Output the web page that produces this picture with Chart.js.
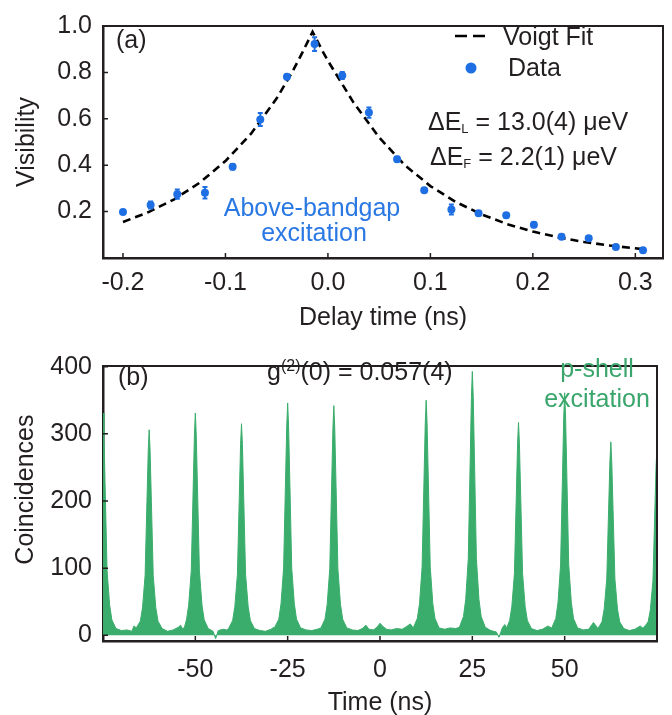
<!DOCTYPE html>
<html>
<head>
<meta charset="utf-8">
<script src="https://cdn.jsdelivr.net/npm/chart.js@4.4.1/dist/chart.umd.min.js"></script>
<style>
  body { margin: 0; background: #fff; }
  #wrap { position: relative; width: 672px; height: 715px; }
  canvas { position: absolute; left: 0; }
  #visibility-chart { top: 0; }
  #coincidence-chart { top: 340px; }
</style>
</head>
<body>
<div id="wrap">
  <canvas id="visibility-chart" width="672" height="340"></canvas>
  <canvas id="coincidence-chart" width="672" height="375"></canvas>
</div>
<script>
// (a) two-photon interference visibility
const delayTime = [-0.2, -0.173, -0.147, -0.12, -0.093, -0.066, -0.04, -0.013, 0.014, 0.04,
                   0.0675, 0.094, 0.1205, 0.147, 0.174, 0.201, 0.228, 0.2545, 0.281, 0.3075];
const visibility = [0.198, 0.228, 0.275, 0.281, 0.393, 0.597, 0.781, 0.922, 0.787, 0.627,
                    0.426, 0.292, 0.209, 0.193, 0.184, 0.143, 0.092, 0.085, 0.047, 0.033];
const visError = [0.008, 0.015, 0.02, 0.025, 0.012, 0.028, 0.01, 0.03, 0.015, 0.022,
                  0.01, 0.008, 0.022, 0.01, 0.01, 0.01, 0.008, 0.01, 0.008, 0.008];

// dashed Voigt fit
const fitTime = [-0.2, -0.175, -0.15, -0.125, -0.1, -0.075, -0.05, -0.035, -0.025, -0.015,
                 -0.005, 0, 0.025, 0.05, 0.075, 0.1, 0.125, 0.15, 0.175, 0.2, 0.225, 0.25, 0.275, 0.3075];
const fitVis = [0.155, 0.198, 0.253, 0.325, 0.418, 0.536, 0.688, 0.8, 0.885, 0.975,
                0.89, 0.85, 0.67, 0.52, 0.4, 0.31, 0.241, 0.188, 0.146, 0.114, 0.089, 0.069, 0.054, 0.038];

const visXTicks = [-0.2, -0.1, 0, 0.1, 0.2, 0.3];
const visYTicks = [0.2, 0.4, 0.6, 0.8, 1.0];

// (b) coincidence histogram, one line per peak / gap
const coincTime = [
  -75, -74.75, -74.4, -73.9, -73.2, -72.6, -71.5,
  -70, -68.5, -67.2, -66.6,
  -66, -64.9, -64.3, -63.6, -63.1, -62.75, -62.5, -62.25, -61.9, -61.4, -60.7, -60.1, -59,
  -57.5, -56, -54.6, -54, -53.5,
  -53, -52.4, -51.8, -51.1, -50.6, -50.25, -50, -49.75, -49.4, -48.9, -48.2, -47.6, -46.5,
  -45.2, -44.5, -43.8, -42.5, -41.5,
  -41, -39.9, -39.3, -38.6, -38.1, -37.75, -37.5, -37.25, -36.9, -36.4, -35.7, -35.1, -34,
  -32.5, -31, -29.5, -29,
  -28.5, -27.4, -26.8, -26.1, -25.6, -25.25, -25, -24.75, -24.4, -23.9, -23.2, -22.6, -21.5,
  -20, -18.5, -17,
  -16, -14.9, -14.3, -13.6, -13.1, -12.75, -12.5, -12.25, -11.9, -11.4, -10.7, -10.1, -9,
  -7.5, -6, -4.8, -3.8, -3, -1.8, -0.8, 0, 0.8, 1.8, 3, 4.5, 6, 7.2, 8.2,
  9, 10.1, 10.7, 11.4, 11.9, 12.25, 12.5, 12.75, 13.1, 13.6, 14.3, 14.9, 16,
  17.5, 19, 20.5,
  21.5, 22.6, 23.2, 23.9, 24.4, 24.75, 25, 25.25, 25.6, 26.1, 26.8, 27.4, 28.5,
  30, 31.5, 32.2, 33.2, 33.8,
  34.3, 35.1, 35.7, 36.4, 36.9, 37.25, 37.5, 37.75, 38.1, 38.6, 39.3, 39.9, 41,
  42.5, 44, 45.5, 46,
  46.5, 47.6, 48.2, 48.9, 49.4, 49.75, 50, 50.25, 50.6, 51.1, 51.8, 52.4, 53.5,
  55, 56.5, 57.8, 58.5,
  59, 60.1, 60.7, 61.4, 61.9, 62.25, 62.5, 62.75, 63.1, 63.6, 64.3, 64.9, 66,
  67.5, 69, 70.5, 71,
  71.5, 72.6, 73.2, 73.9, 74.4, 74.75, 75
];
const coincCounts = [
  331, 298, 215, 96, 45, 23, 10,
  7, 8, 6, 14,
  11, 21, 41, 89, 199, 275, 306, 275, 199, 89, 41, 21, 10,
  6, 8, 12, 15, 10,
  11, 23, 45, 96, 215, 298, 331, 298, 215, 96, 45, 23, 10,
  6, -5, 7, 9, 8,
  10, 22, 43, 91, 205, 284, 315, 284, 205, 91, 43, 22, 10,
  7, 6, 9, 11,
  12, 24, 47, 100, 225, 311, 346, 311, 225, 100, 47, 24, 11,
  8, 7, 9,
  11, 24, 46, 99, 222, 308, 342, 308, 222, 99, 46, 24, 11,
  8, 7, 10, 15, 9, 8, 12, 18, 13, 9, 8, 10, 9, 13, 17,
  11, 25, 47, 102, 228, 315, 350, 315, 228, 102, 47, 25, 11,
  9, 11, 10,
  12, 28, 53, 114, 255, 354, 393, 354, 255, 114, 53, 28, 12,
  7, 5, -3, 12, 16,
  11, 22, 43, 92, 206, 285, 317, 285, 206, 92, 43, 22, 10,
  7, 9, 14, 12,
  11, 25, 49, 105, 235, 325, 361, 325, 235, 105, 49, 25, 11,
  8, 9, 19, 14,
  10, 20, 39, 84, 187, 259, 288, 259, 187, 84, 39, 20, 10,
  7, 9, 14, 11,
  12, 20, 38, 81, 182, 252, 280
];

const coincXTicks = [-50, -25, 0, 25, 50];
const coincYTicks = [0, 100, 200, 300, 400];

const INK = '#231f20';
const BLUE = '#1e6fe3';
const GREEN = '#3aad6c';
const FONT = '"Liberation Sans", Arial, sans-serif';

// closed frame plus short inward tick marks
const frameAndTicks = {
  id: 'frameAndTicks',
  afterDraw(chart) {
    const {ctx, chartArea: a, scales} = chart;
    ctx.save();
    ctx.strokeStyle = INK;
    ctx.lineWidth = 2;
    ctx.beginPath();
    ctx.moveTo(a.left, a.top);
    ctx.lineTo(a.right, a.top);
    ctx.lineTo(a.right, a.bottom);
    ctx.stroke();
    ctx.lineWidth = 1.5;
    ctx.beginPath();
    scales.x.ticks.forEach(t => {
      const px = scales.x.getPixelForValue(t.value);
      ctx.moveTo(px, a.bottom);
      ctx.lineTo(px, a.bottom - 5);
    });
    scales.y.ticks.forEach(t => {
      const py = scales.y.getPixelForValue(t.value);
      ctx.moveTo(a.left, py);
      ctx.lineTo(a.left + 5, py);
    });
    ctx.stroke();
    ctx.restore();
  }
};

function drawRuns(ctx, x, y, runs, color) {
  ctx.fillStyle = color;
  ctx.textBaseline = 'alphabetic';
  ctx.textAlign = 'left';
  runs.forEach(([text, size, dy]) => {
    ctx.font = size + 'px ' + FONT;
    ctx.fillText(text, x, y + dy);
    x += ctx.measureText(text).width;
  });
}

function drawCentered(ctx, x, y, text, color) {
  ctx.fillStyle = color;
  ctx.textBaseline = 'alphabetic';
  ctx.textAlign = 'center';
  ctx.font = '25px ' + FONT;
  ctx.fillText(text, x, y);
}

const errorBars = {
  id: 'errorBars',
  afterDatasetsDraw(chart) {
    const {ctx, scales: {x, y}} = chart;
    ctx.save();
    ctx.strokeStyle = BLUE;
    ctx.lineWidth = 2;
    delayTime.forEach((t, i) => {
      const px = x.getPixelForValue(t);
      const lo = y.getPixelForValue(visibility[i] - visError[i]);
      const hi = y.getPixelForValue(visibility[i] + visError[i]);
      ctx.beginPath();
      ctx.moveTo(px, lo); ctx.lineTo(px, hi);
      ctx.moveTo(px - 2.5, lo); ctx.lineTo(px + 2.5, lo);
      ctx.moveTo(px - 2.5, hi); ctx.lineTo(px + 2.5, hi);
      ctx.stroke();
    });
    ctx.restore();
  }
};

const visibilityNotes = {
  id: 'visibilityNotes',
  afterDraw(chart) {
    const ctx = chart.ctx;
    const [fit, data] = chart.data.datasets;
    ctx.save();
    // legend
    ctx.strokeStyle = fit.borderColor;
    ctx.lineWidth = fit.borderWidth;
    ctx.setLineDash([12, 6]);
    ctx.beginPath();
    ctx.moveTo(455, 36);
    ctx.lineTo(485, 36);
    ctx.stroke();
    ctx.setLineDash([]);
    ctx.fillStyle = data.pointBackgroundColor;
    ctx.beginPath();
    ctx.arc(471, 68, 5.5, 0, Math.PI * 2);
    ctx.fill();
    drawRuns(ctx, 503, 45, [[fit.label, 25, 0]], INK);
    drawRuns(ctx, 508, 76, [[data.label, 25, 0]], INK);

    drawRuns(ctx, 116, 48, [['(a)', 25, 0]], INK);
    drawRuns(ctx, 428, 130, [['ΔE', 25, 0], ['L', 13, 3], [' = 13.0(4) μeV', 25, 0]], INK);
    drawRuns(ctx, 430, 165, [['ΔE', 25, 0], ['F', 13, 3], [' = 2.2(1) μeV', 25, 0]], INK);
    drawCentered(ctx, 312, 216, 'Above-bandgap', '#2a78e4');
    drawCentered(ctx, 314, 241, 'excitation', '#2a78e4');
    ctx.restore();
  }
};

const coincidenceNotes = {
  id: 'coincidenceNotes',
  afterDraw(chart) {
    const ctx = chart.ctx;
    ctx.save();
    drawRuns(ctx, 118, 45, [['(b)', 25, 0]], INK);
    drawRuns(ctx, 267, 40, [['g', 25, 0], ['(2)', 16, -9], ['(0) = 0.057(4)', 25, 0]], INK);
    drawCentered(ctx, 597, 37, 'p-shell', '#3aa66c');
    drawCentered(ctx, 597, 67, 'excitation', '#3aa66c');
    ctx.restore();
  }
};

function axisFont() {
  return {family: FONT, size: 25};
}

new Chart(document.getElementById('visibility-chart'), {
  type: 'scatter',
  data: {
    datasets: [
      {
        label: 'Voigt Fit',
        data: fitTime.map((t, i) => ({x: t, y: fitVis[i]})),
        showLine: true,
        borderColor: '#000000',
        borderWidth: 2.6,
        borderDash: [8, 5],
        pointRadius: 0,
        order: 2
      },
      {
        label: 'Data',
        data: delayTime.map((t, i) => ({x: t, y: visibility[i]})),
        pointRadius: 4,
        pointBackgroundColor: BLUE,
        pointBorderWidth: 0,
        order: 1
      }
    ]
  },
  options: {
    responsive: false,
    animation: false,
    layout: {padding: {top: 15, right: 9, left: 0, bottom: 0}},
    plugins: {legend: {display: false}, tooltip: {enabled: false}},
    scales: {
      x: {
        type: 'linear',
        min: -0.2195,
        max: 0.327,
        afterFit: s => { s.height = 82; },
        afterBuildTicks: s => { s.ticks = visXTicks.map(v => ({value: v})); },
        grid: {display: false, drawTicks: false},
        border: {display: true, color: INK, width: 2.5},
        ticks: {color: INK, font: axisFont(), padding: 10, maxRotation: 0, callback: v => v.toFixed(1)},
        title: {display: true, text: 'Delay time (ns)', color: INK, font: axisFont(), padding: {top: 0, bottom: 7}}
      },
      y: {
        type: 'linear',
        min: 0,
        max: 1.0,
        afterFit: s => { s.width = 103; },
        afterBuildTicks: s => { s.ticks = visYTicks.map(v => ({value: v})); },
        grid: {display: false, drawTicks: false},
        border: {display: true, color: INK, width: 2.5},
        ticks: {color: INK, font: axisFont(), padding: 11, callback: v => v.toFixed(1)},
        title: {display: true, text: 'Visibility', color: INK, font: axisFont(), padding: {top: 12, bottom: 0}}
      }
    }
  },
  plugins: [errorBars, frameAndTicks, visibilityNotes]
});

new Chart(document.getElementById('coincidence-chart'), {
  type: 'line',
  data: {
    datasets: [{
      label: 'Coincidences',
      data: coincTime.map((t, i) => ({x: t, y: coincCounts[i]})),
      borderColor: GREEN,
      backgroundColor: GREEN,
      borderWidth: 1,
      pointRadius: 0,
      fill: 'origin',
      tension: 0
    }]
  },
  options: {
    responsive: false,
    animation: false,
    layout: {padding: {top: 13, right: 15, left: 0, bottom: 0}},
    plugins: {legend: {display: false}, tooltip: {enabled: false}},
    scales: {
      x: {
        type: 'linear',
        min: -75,
        max: 75,
        afterFit: s => { s.height = 74; },
        afterBuildTicks: s => { s.ticks = coincXTicks.map(v => ({value: v})); },
        grid: {display: false, drawTicks: false},
        border: {display: true, color: INK, width: 2.5},
        ticks: {color: INK, font: axisFont(), padding: 14, maxRotation: 0},
        title: {display: true, text: 'Time (ns)', color: INK, font: axisFont(), padding: {top: 0, bottom: -3}}
      },
      y: {
        type: 'linear',
        min: -8.5,
        max: 401,
        afterFit: s => { s.width = 103; },
        afterBuildTicks: s => { s.ticks = coincYTicks.map(v => ({value: v})); },
        grid: {display: false, drawTicks: false},
        border: {display: true, color: INK, width: 2.5},
        ticks: {color: INK, font: axisFont(), padding: 11},
        // leading spaces lift the rotated label a little, as in the figure
        title: {display: true, text: '\u00a0\u00a0\u00a0\u00a0Coincidences', color: INK, font: axisFont(), padding: {top: 11, bottom: 0}}
      }
    }
  },
  plugins: [frameAndTicks, coincidenceNotes]
});
</script>
</body>
</html>
